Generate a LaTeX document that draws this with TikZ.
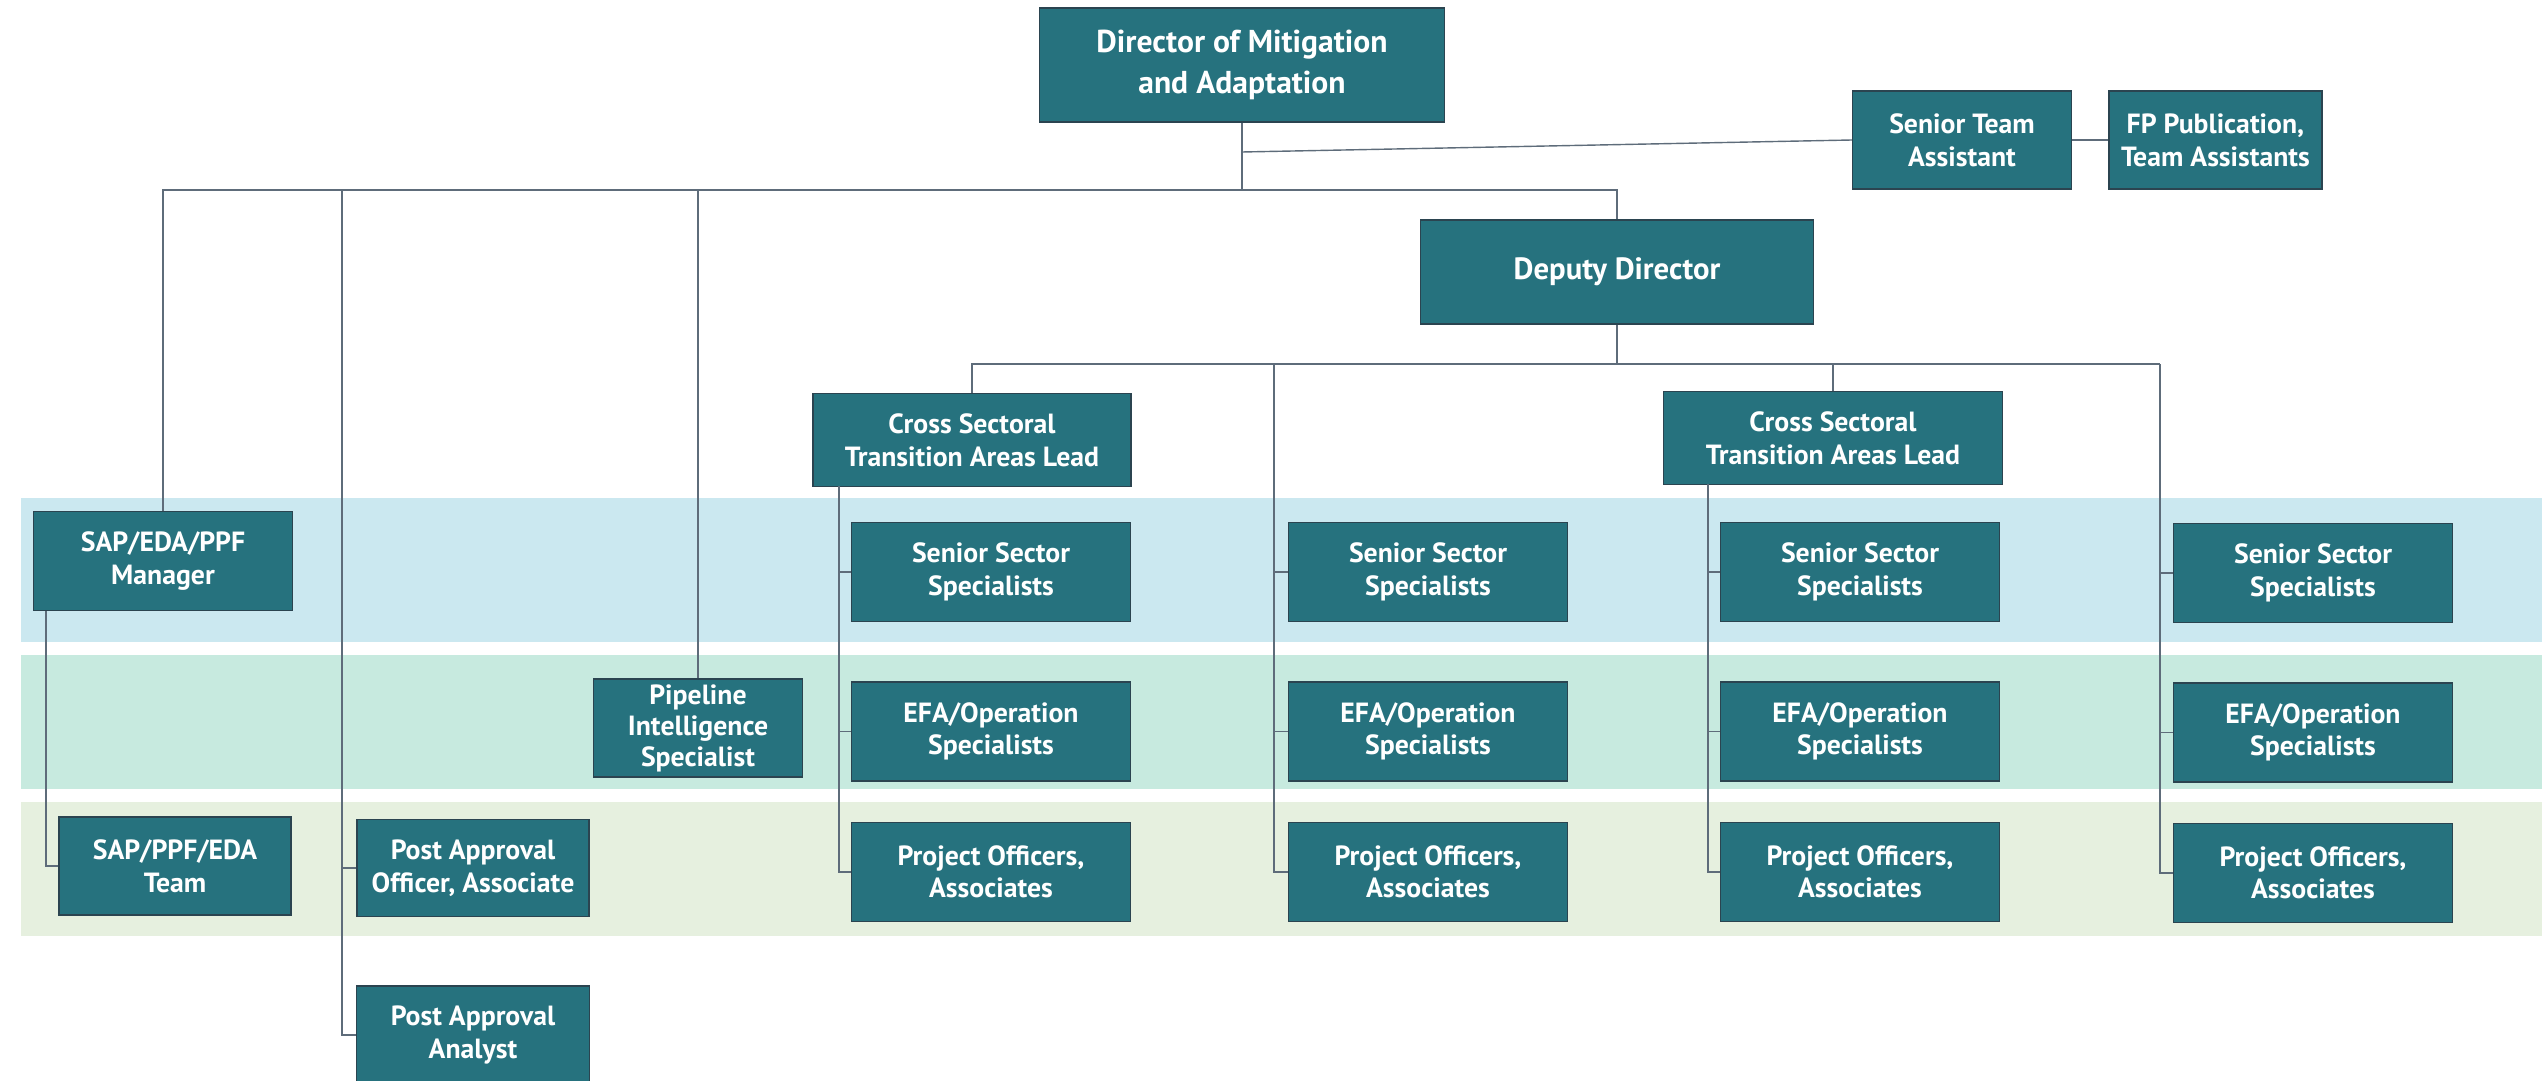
\documentclass[tikz,border=0pt]{standalone}
\usepackage{fontspec}
\setmainfont{PT Sans}
\usetikzlibrary{positioning}
\definecolor{boxteal}{HTML}{26727E}
\definecolor{boxedge}{HTML}{2B4450}
\definecolor{linegray}{HTML}{5E6C7A}
\definecolor{bandblue}{HTML}{CBE8F0}
\definecolor{bandgreen}{HTML}{C7EADF}
\definecolor{bandpale}{HTML}{E6F0DF}
\tikzset{x=0.02cm, y=-0.02cm, % One unit is one pixel of the chart, y runs downwards
      box/.style 2 args={ % Sets the properties for each post, width and height in units
      draw=boxedge, line width=0.8pt,
      fill=boxteal, text=white,
      align=center, inner sep=0pt,
      font=\fontsize{15.8}{18.6}\selectfont\bfseries,
      minimum width=#1*0.02cm, minimum height=#2*0.02cm},
      colbox/.style={box={279}{99}}, % Posts in the four sector columns
      link/.style={ % Sets the properties for each connector
      draw=linegray, line width=0.8pt}}

\begin{document}
\begin{tikzpicture}
      \useasboundingbox (0,0) rectangle (2542,1081);
      % bands behind the three staff levels
      \fill[bandblue] (21,498) rectangle (2542,642);
      \fill[bandgreen] (21,655) rectangle (2542,789);
      \fill[bandpale] (21,802) rectangle (2542,936);

      \node[box={405}{114}, font=\fontsize{18}{23}\selectfont\bfseries] (dir) at (1242,65) {Director of Mitigation\\and Adaptation};
      \node[box={219}{98}] (sta) at (1962,140) {Senior Team\\Assistant};
      \node[box={213}{98}, right=0.72cm of sta] (fp) {FP Publication,\\Team Assistants};
      \node[box={393}{104}, font=\fontsize{17.5}{21}\selectfont\bfseries] (dep) at (1617,272) {Deputy Director};
      \node[box={318}{93}] (cst1) at (972,440) {Cross Sectoral\\Transition Areas Lead};
      \node[box={339}{93}] (cst2) at (1833,438) {Cross Sectoral\\Transition Areas Lead};
      \node[box={259}{99}] (mgr) at (163,561) {SAP/EDA/PPF\\Manager};
      \node[box={232}{98}] (team) at (175,866) {SAP/PPF/EDA\\Team};
      \node[box={232}{97}] (pao) at (473,868) {Post Approval\\Officer, Associate};
      \node[box={233}{98}] (paa) at (473,1035) {Post Approval\\Analyst};
      \node[box={209}{98}, font=\fontsize{15.8}{17.6}\selectfont\bfseries] (pis) at (698,728) {Pipeline\\Intelligence\\Specialist};

      \node[colbox] (sss1) at (991,572) {Senior Sector\\Specialists};
      \node[colbox, below=1.18cm of sss1] (efa1) {EFA/Operation\\Specialists};
      \node[colbox, below=0.8cm of efa1] (po1) {Project Officers,\\Associates};
      \node[colbox] (sss2) at (1428,572) {Senior Sector\\Specialists};
      \node[colbox, below=1.18cm of sss2] (efa2) {EFA/Operation\\Specialists};
      \node[colbox, below=0.8cm of efa2] (po2) {Project Officers,\\Associates};
      \node[colbox] (sss3) at (1860,572) {Senior Sector\\Specialists};
      \node[colbox, below=1.18cm of sss3] (efa3) {EFA/Operation\\Specialists};
      \node[colbox, below=0.8cm of efa3] (po3) {Project Officers,\\Associates};
      \node[colbox] (sss4) at (2313,573) {Senior Sector\\Specialists};
      \node[colbox, below=1.18cm of sss4] (efa4) {EFA/Operation\\Specialists};
      \node[colbox, below=0.8cm of efa4] (po4) {Project Officers,\\Associates};

      % upper bus under the director
      \coordinate (top) at (0,190);
      \coordinate (pa) at (342,190);
      \coordinate (sa) at (1242,152);
      \coordinate (mg) at (46,611);
      \draw[link] (mgr.north) -- (mgr.north |- top) -- (dep.north |- top) -- (dep.north);
      \draw[link] (dir.south) -- (dir.south |- top);
      \draw[link] (pis.north) -- (pis.north |- top);
      \draw[link] (sa) -- (sta.west);
      \draw[link] (sta) -- (fp);
      \draw[link] (pa) |- (pao.west);
      \draw[link] (pa) |- (paa.west);
      \draw[link] (mg) |- (team.west);

      % lower bus under the deputy
      \coordinate (mid) at (0,364);
      \coordinate (v1) at (839,486);
      \coordinate (v2) at (1274,364);
      \coordinate (v3) at (1708,484);
      \coordinate (v4) at (2160,364);
      \draw[link] (cst1.north) -- (cst1.north |- mid) -- (v4);
      \draw[link] (dep.south) -- (dep.south |- mid);
      \draw[link] (cst2.north) -- (cst2.north |- mid);
      \foreach \k in {1,...,4} {
        \draw[link] (v\k) |- (po\k.west);
        \draw[link] (v\k |- sss\k.west) -- (sss\k.west);
        \draw[link] (v\k |- efa\k.west) -- (efa\k.west);
      }
    \end{tikzpicture}
\end{document}
